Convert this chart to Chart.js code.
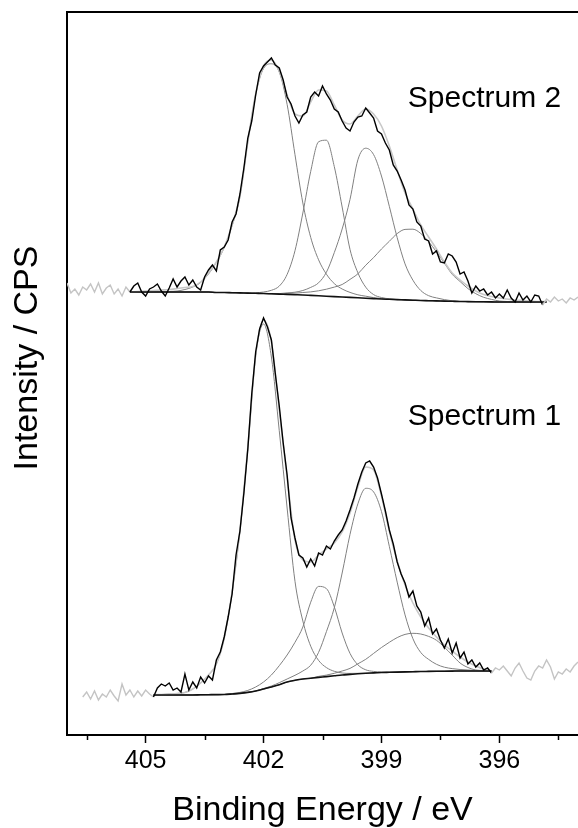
<!DOCTYPE html>
<html>
<head>
<meta charset="utf-8">
<title>XPS N 1s spectra</title>
<script src="https://cdn.jsdelivr.net/npm/chart.js@4.4.1/dist/chart.umd.min.js"></script>
<style>
  html, body { margin: 0; padding: 0; background: #fff; }
  canvas { display: block; }
</style>
</head>
<body>
<canvas id="xps-chart" width="578" height="828"></canvas>
<script>
/* raw scans, binding energy in eV (both scans share this grid) */
const energy = [
  407.0, 406.9, 406.8, 406.7, 406.6, 406.5, 406.4, 406.3, 406.2, 406.1,
  406.0, 405.9, 405.8, 405.7, 405.6, 405.5, 405.4, 405.3, 405.2, 405.1,
  405.0, 404.9, 404.8, 404.7, 404.6, 404.5, 404.4, 404.3, 404.2, 404.1,
  404.0, 403.9, 403.8, 403.7, 403.6, 403.5, 403.4, 403.3, 403.2, 403.1,
  403.0, 402.9, 402.8, 402.7, 402.6, 402.5, 402.4, 402.3, 402.2, 402.1,
  402.0, 401.9, 401.8, 401.7, 401.6, 401.5, 401.4, 401.3, 401.2, 401.1,
  401.0, 400.9, 400.8, 400.7, 400.6, 400.5, 400.4, 400.3, 400.2, 400.1,
  400.0, 399.9, 399.8, 399.7, 399.6, 399.5, 399.4, 399.3, 399.2, 399.1,
  399.0, 398.9, 398.8, 398.7, 398.6, 398.5, 398.4, 398.3, 398.2, 398.1,
  398.0, 397.9, 397.8, 397.7, 397.6, 397.5, 397.4, 397.3, 397.2, 397.1,
  397.0, 396.9, 396.8, 396.7, 396.6, 396.5, 396.4, 396.3, 396.2, 396.1,
  396.0, 395.9, 395.8, 395.7, 395.6, 395.5, 395.4, 395.3, 395.2, 395.1,
  395.0, 394.9, 394.8, 394.7, 394.6, 394.5, 394.4, 394.3, 394.2, 394.1,
  394.0
];

// counts, spectrum 2 is the upper (offset) trace
const spectrum2Raw = [
  4520, 4420, 4460, 4400, 4480, 4450, 4510, 4430, 4520, 4410,
  4470, 4500, 4410, 4460, 4390, 4480, 4430, 4490, 4520, 4430,
  4390, 4460, 4480, 4510, 4440, 4390, 4470, 4560, 4480, 4540,
  4580, 4500, 4550, 4480, 4450, 4580, 4650, 4700, 4640, 4850,
  4880, 4950, 5130, 5210, 5410, 5670, 5970, 6140, 6400, 6620,
  6690, 6730, 6770, 6700, 6670, 6550, 6380, 6310, 6190, 6120,
  6200, 6230, 6380, 6430, 6390, 6490, 6410, 6350, 6260, 6230,
  6140, 6070, 6040, 6130, 6180, 6190, 6270, 6220, 6170, 6040,
  6010, 5920, 5850, 5700, 5640, 5550, 5450, 5300, 5260, 5130,
  5090, 4960, 4940, 4810, 4840, 4730, 4720, 4810, 4790, 4730,
  4610, 4630, 4540, 4420, 4490, 4440, 4460, 4400, 4430, 4370,
  4410, 4370, 4450, 4370, 4330, 4420, 4350, 4390, 4330, 4400,
  4390, 4300, 4360, 4330, 4380, 4340, 4360, 4320, 4370, 4350,
  4380
];

const spectrum1Raw = [
  null, null, null, null, 380, 430, 360, 440, 350, 410,
  380, 450, 390, 340, 510, 400, 450, 380, 440, 390,
  450, 410, 380, 470, 510, 490, 520, 450, 470, 430,
  610, 450, 530, 470, 580, 520, 590, 550, 750, 830,
  980, 1180, 1410, 1800, 2040, 2420, 2860, 3410, 3830, 4060,
  4170, 4080, 3950, 3610, 3290, 2920, 2600, 2170, 1970, 1800,
  1770, 1680, 1760, 1690, 1820, 1800, 1890, 1860, 1940, 2000,
  2050, 2140, 2250, 2370, 2510, 2630, 2720, 2740, 2680, 2570,
  2410, 2240, 2050, 1910, 1730, 1610, 1520, 1380, 1440, 1290,
  1230, 1090, 1170, 1010, 1060, 950, 870, 960, 820, 920,
  770, 830, 710, 750, 680, 720, 650, 670, 620, 670,
  650, 690, 640, 590, 670, 720, 640, 570, 550, 640,
  690, 670, 750, 680, 560, 630, 610, 660, 630, 690,
  730
];

// fitted region of each scan [low, high] eV
const fitRange1 = [396.2, 404.8];
const fitRange2 = [394.9, 405.4];

/* spectrum 1 fit */
const fit1Energy = [
  404.8, 404.6, 404.4, 404.2, 404.0, 403.8, 403.6, 403.4, 403.2, 403.0,
  402.8, 402.6, 402.4, 402.2, 402.0, 401.8, 401.6, 401.4, 401.2, 401.0,
  400.8, 400.6, 400.4, 400.2, 400.0, 399.8, 399.6, 399.4, 399.2, 399.0,
  398.8, 398.6, 398.4, 398.2, 398.0, 397.8, 397.6, 397.4, 397.2, 397.0,
  396.8, 396.6, 396.4, 396.2
];
const fit1Background = [
  400, 400, 400, 400, 400, 400, 402, 403, 404, 405,
  410, 416, 426, 440, 460, 480, 503, 530, 547, 560,
  568, 576, 584, 592, 600, 606, 612, 617, 621, 625,
  627, 629, 631, 633, 635, 636, 637, 638, 639, 640,
  640, 640, 640, 640
];
const fit1Envelope = [
  405, 405, 410, 415, 425, 460, 520, 600, 710, 970,
  1430, 2050, 2880, 3800, 4150, 3930, 3250, 2570, 1950, 1750,
  1730, 1800, 1860, 1920, 2030, 2220, 2480, 2680, 2650, 2390,
  2040, 1740, 1500, 1320, 1180, 1070, 980, 900, 840, 780,
  730, 690, 660, 640
];
// component heights above the background
const fit1Peak1 = [
  0, 5, 10, 15, 25, 60, 118, 197, 306, 565,
  1020, 1625, 2440, 3350, 3650, 3300, 2540, 1740, 990, 580,
  320, 170, 90, 45, 20, 10, 5, 0, 0, 0,
  0, 0, 0, 0, 0, 0, 0, 0, 0, 0,
  0, 0, 0, 0
];
const fit1Peak2 = [
  0, 0, 0, 0, 0, 0, 0, 0, 0, 0,
  5, 10, 20, 40, 70, 120, 190, 270, 380, 520,
  760, 910, 880, 690, 420, 210, 90, 35, 15, 5,
  0, 0, 0, 0, 0, 0, 0, 0, 0, 0,
  0, 0, 0, 0
];
const fit1Peak3 = [
  0, 0, 0, 0, 0, 0, 0, 0, 0, 0,
  0, 0, 0, 0, 5, 10, 20, 30, 50, 80,
  130, 250, 450, 680, 1020, 1400, 1700, 1850, 1810, 1610,
  1260, 900, 570, 330, 190, 120, 70, 40, 25, 15,
  10, 5, 0, 0
];
const fit1Peak4 = [
  0, 0, 0, 0, 0, 0, 0, 0, 0, 0,
  0, 0, 0, 0, 0, 0, 0, 0, 0, 0,
  0, 10, 15, 25, 40, 60, 100, 140, 195, 250,
  300, 345, 375, 384, 375, 350, 310, 240, 160, 80,
  35, 10, 5, 0
];

/* spectrum 2 fit */
const fit2Energy = [
  405.4, 405.2, 405.0, 404.8, 404.6, 404.4, 404.2, 404.0, 403.8, 403.6,
  403.4, 403.2, 403.0, 402.8, 402.6, 402.4, 402.2, 402.0, 401.8, 401.6,
  401.4, 401.2, 401.0, 400.8, 400.6, 400.4, 400.2, 400.0, 399.8, 399.6,
  399.4, 399.2, 399.0, 398.8, 398.6, 398.4, 398.2, 398.0, 397.8, 397.6,
  397.4, 397.2, 397.0, 396.8, 396.6, 396.4, 396.2, 396.0, 395.8, 395.6,
  395.4, 395.2, 395.0, 394.8
];
const fit2Background = [
  4430, 4430, 4430, 4430, 4430, 4430, 4430, 4430, 4430, 4430,
  4430, 4425, 4425, 4423, 4421, 4419, 4417, 4415, 4412, 4409,
  4406, 4403, 4400, 4396, 4392, 4388, 4384, 4380, 4376, 4372,
  4368, 4364, 4360, 4357, 4354, 4351, 4348, 4345, 4343, 4341,
  4339, 4337, 4335, 4334, 4333, 4332, 4331, 4330, 4330, 4330,
  4330, 4330, 4330, 4330
];
const fit2Envelope = [
  4430, 4435, 4440, 4445, 4450, 4455, 4465, 4475, 4485, 4530,
  4620, 4730, 4880, 5100, 5390, 5930, 6410, 6690, 6750, 6640,
  6400, 6210, 6190, 6330, 6450, 6440, 6300, 6150, 6110, 6190,
  6260, 6210, 6090, 5890, 5650, 5420, 5260, 5100, 4980, 4860,
  4730, 4620, 4550, 4490, 4440, 4405, 4385, 4370, 4360, 4350,
  4345, 4340, 4335, 4335
];
const fit2Peak1 = [
  0, 0, 0, 0, 0, 5, 10, 25, 50, 95,
  180, 300, 450, 670, 960, 1510, 1990, 2250, 2300, 2220,
  1900, 1400, 920, 580, 360, 220, 130, 80, 50, 30,
  20, 10, 5, 0, 0, 0, 0, 0, 0, 0,
  0, 0, 0, 0, 0, 0, 0, 0, 0, 0,
  0, 0, 0, 0
];
const fit2Peak2 = [
  0, 0, 0, 0, 0, 0, 0, 0, 0, 0,
  0, 0, 0, 0, 0, 0, 5, 15, 35, 80,
  200, 440, 820, 1240, 1540, 1560, 1300, 900, 480, 250,
  110, 40, 15, 5, 0, 0, 0, 0, 0, 0,
  0, 0, 0, 0, 0, 0, 0, 0, 0, 0,
  0, 0, 0, 0
];
const fit2Peak3 = [
  0, 0, 0, 0, 0, 0, 0, 0, 0, 0,
  0, 0, 0, 0, 0, 0, 0, 0, 0, 5,
  15, 25, 45, 80, 130, 240, 440, 680, 980, 1380,
  1500, 1440, 1230, 930, 620, 360, 200, 100, 50, 30,
  15, 5, 0, 0, 0, 0, 0, 0, 0, 0,
  0, 0, 0, 0
];
const fit2Peak4 = [
  0, 0, 0, 0, 0, 0, 0, 0, 0, 0,
  0, 0, 0, 0, 0, 0, 0, 0, 0, 0,
  10, 15, 25, 35, 50, 70, 95, 125, 180, 240,
  330, 410, 500, 580, 660, 705, 710, 670, 590, 490,
  380, 270, 200, 130, 80, 45, 25, 10, 5, 0,
  0, 0, 0, 0
];

// axis
const majorTicks = [405, 402, 399, 396];
const minorTicks = [406.5, 403.5, 400.5, 397.5, 394.5];

// labels
const spectrumNames = ['Spectrum 1', 'Spectrum 2'];
const labelEnergy = [398.33, 398.33];
const labelCounts = [3100, 6280];

const FONT = "'Liberation Sans', Arial, Helvetica, sans-serif";
Chart.defaults.font.family = FONT;
Chart.defaults.color = '#000';

const pairs = (xs, ys) => xs.map((e, i) => ({x: e, y: ys[i]}));
const onBackground = (xs, bg, h) => xs.map((e, i) => ({x: e, y: bg[i] + h[i]}));

const rawLine = (label, counts, range) => ({
  label: label,
  data: pairs(energy, counts),
  borderWidth: 1.4,
  borderColor: '#000',
  segment: {
    borderColor: ctx => (ctx.p0.parsed.x <= range[1] && ctx.p1.parsed.x >= range[0]) ? '#000' : '#c4c4c4'
  },
  tension: 0
});

const smoothLine = (label, data, color, width) => ({
  label: label,
  data: data,
  borderColor: color,
  borderWidth: width,
  cubicInterpolationMode: 'monotone'
});

const datasets = [
  rawLine('Spectrum 2 raw', spectrum2Raw, fitRange2),
  rawLine('Spectrum 1 raw', spectrum1Raw, fitRange1),
  smoothLine('Spectrum 2 background', pairs(fit2Energy, fit2Background), '#111', 1.6),
  smoothLine('Spectrum 1 background', pairs(fit1Energy, fit1Background), '#111', 1.6),
  smoothLine('Spectrum 2 envelope', pairs(fit2Energy, fit2Envelope), '#c8c8c8', 1.6),
  smoothLine('Spectrum 1 envelope', pairs(fit1Energy, fit1Envelope), '#c8c8c8', 1.6)
];
[fit2Peak1, fit2Peak2, fit2Peak3, fit2Peak4].forEach((p, i) => {
  datasets.push(smoothLine('Spectrum 2 peak ' + (i + 1), onBackground(fit2Energy, fit2Background, p), '#808080', 1));
});
[fit1Peak1, fit1Peak2, fit1Peak3, fit1Peak4].forEach((p, i) => {
  datasets.push(smoothLine('Spectrum 1 peak ' + (i + 1), onBackground(fit1Energy, fit1Background, p), '#808080', 1));
});

// minor ticks, spectrum names and the y title
const extras = {
  id: 'extras',
  afterDraw(chart) {
    const {ctx, scales: {x, y}} = chart;
    ctx.save();
    ctx.strokeStyle = '#000';
    ctx.lineWidth = 1.5;
    minorTicks.forEach(v => {
      const px = Math.round(x.getPixelForValue(v)) + 0.5;
      ctx.beginPath();
      ctx.moveTo(px, x.top);
      ctx.lineTo(px, x.top + 5);
      ctx.stroke();
    });

    ctx.fillStyle = '#000';
    ctx.font = '30px ' + FONT;
    ctx.textAlign = 'left';
    ctx.textBaseline = 'alphabetic';
    spectrumNames.forEach((name, i) => {
      ctx.fillText(name, x.getPixelForValue(labelEnergy[i]), y.getPixelForValue(labelCounts[i]));
    });

    ctx.translate(28, 358);
    ctx.rotate(-Math.PI / 2);
    ctx.font = '34px ' + FONT;
    ctx.textAlign = 'center';
    ctx.textBaseline = 'middle';
    ctx.fillText('Intensity / CPS', 0, 0);
    ctx.restore();
  }
};

new Chart(document.getElementById('xps-chart'), {
  type: 'line',
  data: {datasets: datasets},
  options: {
    responsive: false,
    animation: false,
    events: [],
    layout: {padding: {top: 12, left: 0, right: 0, bottom: 0}},
    elements: {point: {radius: 0}},
    plugins: {legend: {display: false}, tooltip: {enabled: false}},
    scales: {
      x: {
        type: 'linear',
        position: 'bottom',
        min: 394,
        max: 407,
        reverse: true,
        afterBuildTicks: scale => { scale.ticks = majorTicks.map(v => ({value: v})); },
        afterFit: scale => { scale.height = 93; },
        ticks: {
          font: {size: 25},
          color: '#000',
          padding: 3,
          maxRotation: 0,
          callback: v => v.toFixed(0)
        },
        grid: {drawOnChartArea: false, tickLength: 8, tickColor: '#000', tickWidth: 1.5},
        border: {color: '#000', width: 2},
        title: {
          display: true,
          text: 'Binding Energy / eV',
          font: {size: 34, lineHeight: 1},
          color: '#000',
          padding: {top: 0, bottom: 0}
        }
      },
      xTop: {
        type: 'linear',
        position: 'top',
        min: 394,
        max: 407,
        reverse: true,
        afterFit: scale => { scale.height = 0; },
        ticks: {display: false},
        grid: {drawOnChartArea: false, drawTicks: false},
        border: {color: '#000', width: 2}
      },
      y: {
        type: 'linear',
        position: 'left',
        min: 0,
        max: 7230,
        afterFit: scale => { scale.width = 67; },
        ticks: {display: false},
        grid: {drawOnChartArea: false, drawTicks: false},
        border: {color: '#000', width: 2}
      }
    }
  },
  plugins: [extras]
});
</script>
</body>
</html>
